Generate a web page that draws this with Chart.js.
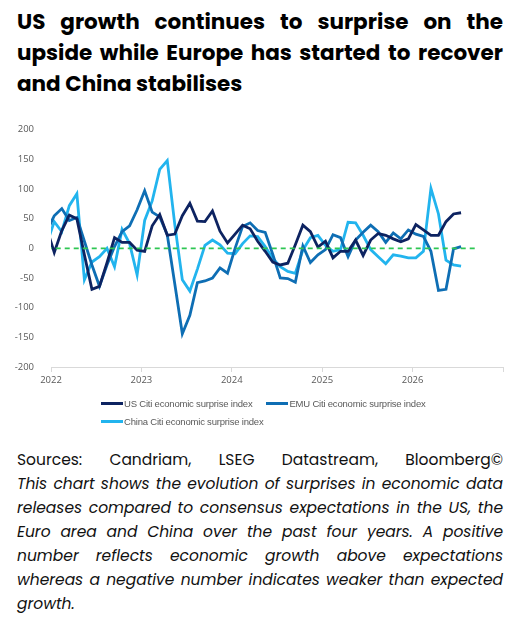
<!DOCTYPE html>
<html>
<head>
<meta charset="utf-8">
<script src="https://cdn.jsdelivr.net/npm/chart.js"></script>
<style>
  body { margin: 0; width: 532px; height: 637px; background: #fff; position: relative; overflow: hidden; }
  #title { position: absolute; left: 17px; top: 6px; width: 486px; font-family: 'Poppins', 'Open Sans', sans-serif; font-weight: 700; font-size: 21.5px; line-height: 31px; color: #000; }
  #title div, #caption div { text-align: justify; text-align-last: justify; }
  #title div.last, #caption div.last { text-align-last: left; }
  #chartBox { position: absolute; left: 0; top: 115px; width: 532px; height: 280px; }
  #legend { position: absolute; left: 101px; top: 394px; width: 340px; display: flex; flex-wrap: wrap; column-gap: 14px; font-family: 'Liberation Sans', sans-serif; font-size: 9.5px; letter-spacing: -0.2px; color: #595959; }
  #legend .item { display: flex; align-items: center; height: 18px; white-space: nowrap; }
  #legend .swatch { width: 22px; height: 3px; margin-right: 1px; }
  #caption { position: absolute; left: 17px; top: 448px; width: 486px; font-family: 'Poppins', 'Open Sans', sans-serif; font-size: 15.5px; line-height: 24px; color: #111; }
  #caption .it { font-style: italic; }
</style>
</head>
<body>
<div id="title">
  <div>US growth continues to surprise on the</div>
  <div>upside while Europe has started to recover</div>
  <div class="last">and China stabilises</div>
</div>
<div id="chartBox"><canvas id="surpriseChart" width="532" height="280"></canvas></div>
<div id="legend"></div>
<div id="caption">
  <div>Sources: Candriam, LSEG Datastream, Bloomberg©</div>
  <div class="it">This chart shows the evolution of surprises in economic data</div>
  <div class="it">releases compared to consensus expectations in the US, the</div>
  <div class="it">Euro area and China over the past four years. A positive</div>
  <div class="it">number reflects economic growth above expectations</div>
  <div class="it">whereas a negative number indicates weaker than expected</div>
  <div class="it last">growth.</div>
</div>
<script>
// monthly observations (mid-month), Dec 2021 - Jul 2026
const months = [
  '2021-12',
  '2022-01', '2022-02', '2022-03', '2022-04', '2022-05', '2022-06', '2022-07', '2022-08', '2022-09', '2022-10', '2022-11', '2022-12',
  '2023-01', '2023-02', '2023-03', '2023-04', '2023-05', '2023-06', '2023-07', '2023-08', '2023-09', '2023-10', '2023-11', '2023-12',
  '2024-01', '2024-02', '2024-03', '2024-04', '2024-05', '2024-06', '2024-07', '2024-08', '2024-09', '2024-10', '2024-11', '2024-12',
  '2025-01', '2025-02', '2025-03', '2025-04', '2025-05', '2025-06', '2025-07', '2025-08', '2025-09', '2025-10', '2025-11', '2025-12',
  '2026-01', '2026-02', '2026-03', '2026-04', '2026-05', '2026-06', '2026-07'
];
const OBS_DAY = 14;

const usSurprise = [33, -7, 30, 56, 50, -11, -69, -64, -24, 18, 10, 10, -3, -5, 38, 57, 22, 24, 55, 76, 46, 45, 63, 29, 9, 24, 39, 33, 12, -5, -23, -28, -25, 6, 39, 28, 2, 12, -16, -5, -5, 14, -12, 14, 25, 22, 16, 11, 16, 40, 31, 22, 22, 45, 58, 60];
const emuSurprise = [28, 55, 67, 47, 52, 12, -28, -64, -28, 3, 28, 38, 65, 97, 61, 53, 23, -60, -144, -113, -58, -55, -50, -33, -42, 0, 37, 43, 30, 27, -10, -50, -51, -57, 4, -24, -11, -2, 23, 18, -14, 14, 27, 39, 28, 10, 26, 16, 31, 24, 20, -5, -71, -69, -1, 3];
const chinaSurprise = [7, 45, 28, 72, 92, -53, -23, -14, 0, -31, 32, 8, -45, 47, 80, 133, 148, 40, -53, -72, -35, 5, 14, 6, -8, -9, 8, 21, 20, 3, -17, -31, -39, -42, -3, 18, 22, 5, -5, -2, 44, 43, 22, -2, -14, -26, -11, -13, -16, -16, -5, 101, 58, -20, -28, -30];

// zero reference line
const zeroMonths = ['2021-12', '2026-09'];
const zeroValues = [0, 0];

const yearLabels = ['2022', '2023', '2024', '2025', '2026'];
const seriesNames = ['US Citi economic surprise index', 'EMU Citi economic surprise index', 'China Citi economic surprise index'];

// months since Jan 2022
function monthPos(s) {
  const p = s.split('-').map(Number);
  return (p[0] - 2022) * 12 + (p[1] - 1) + (OBS_DAY - 1) / 30;
}

function toPoints(ms, vals) {
  return vals.map(function(v, i) { return { x: monthPos(ms[i]), y: v }; });
}

const lineStyle = { borderWidth: 2.8, pointRadius: 0, tension: 0, fill: false };

const chart = new Chart(document.getElementById('surpriseChart'), {
  type: 'line',
  data: {
    datasets: [
      Object.assign({ label: seriesNames[0], data: toPoints(months, usSurprise), borderColor: '#0d2361', order: 1 }, lineStyle),
      Object.assign({ label: seriesNames[1], data: toPoints(months, emuSurprise), borderColor: '#0e6eb4', order: 2 }, lineStyle),
      Object.assign({ label: seriesNames[2], data: toPoints(months, chinaSurprise), borderColor: '#22b4ee', order: 3 }, lineStyle),
      { label: '', data: toPoints(zeroMonths, zeroValues), borderColor: '#2ec653', borderWidth: 1.6, borderDash: [5, 4], pointRadius: 0, order: 0 }
    ]
  },
  options: {
    responsive: false,
    animation: false,
    layout: { padding: { top: 12, right: 29, left: 0, bottom: 0 } },
    plugins: { legend: { display: false }, tooltip: { enabled: false } },
    scales: {
      x: {
        type: 'linear',
        min: 0,
        max: 60,
        afterFit: function(s) { s.height = 28; },
        ticks: {
          stepSize: 12,
          autoSkip: false,
          maxRotation: 0,
          padding: 3,
          color: '#595959',
          font: { family: 'Open Sans', size: 9.5 },
          callback: function(v) { return yearLabels[v / 12] || ''; }
        },
        grid: { drawOnChartArea: false, drawTicks: true, tickLength: 5, color: '#d9d9d9' },
        border: { display: true, color: '#d9d9d9', width: 1 }
      },
      y: {
        min: -200,
        max: 200,
        afterFit: function(s) { s.width = 51; },
        ticks: {
          stepSize: 50,
          padding: 9,
          color: '#595959',
          font: { family: 'Open Sans', size: 9.5 }
        },
        grid: { display: false },
        border: { display: false }
      }
    }
  }
});

// html legend from the chart's own datasets
const legendBox = document.getElementById('legend');
chart.data.datasets.forEach(function(ds) {
  if (!ds.label) return;
  const item = document.createElement('div');
  item.className = 'item';
  const sw = document.createElement('span');
  sw.className = 'swatch';
  sw.style.background = ds.borderColor;
  const txt = document.createElement('span');
  txt.textContent = ds.label;
  item.appendChild(sw);
  item.appendChild(txt);
  legendBox.appendChild(item);
});
</script>
</body>
</html>
